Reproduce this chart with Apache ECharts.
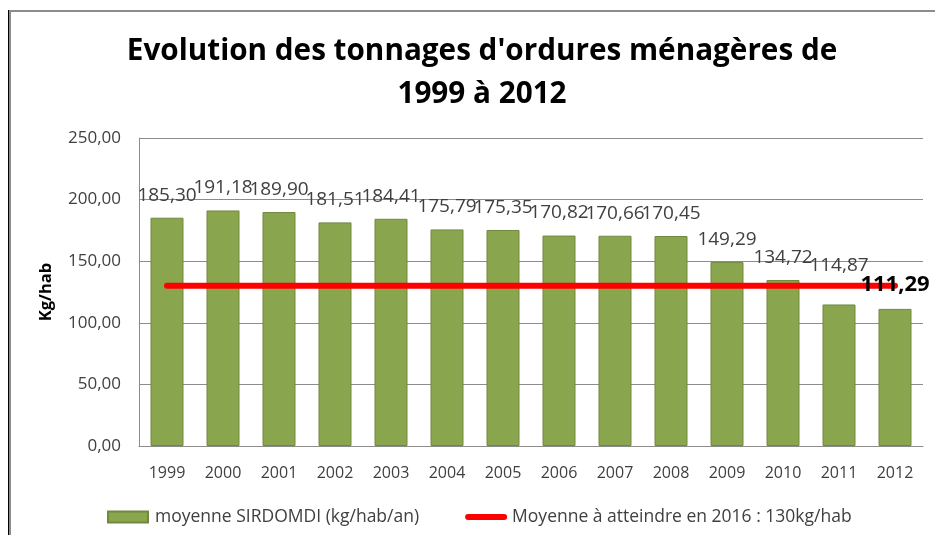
<!DOCTYPE html>
<html>
<head>
<meta charset="utf-8">
<script src="https://cdn.jsdelivr.net/npm/echarts@6/dist/echarts.min.js"></script>
<style>
  html, body { margin: 0; padding: 0; background: #fff; }
  #wrap { position: relative; width: 935px; height: 535px; overflow: hidden; }
  #chart { position: absolute; left: 0; top: 0; width: 935px; height: 535px; }
  .frame-a { position: absolute; left: 8px; top: 10px; width: 940px; height: 540px; border-left: 1px solid #000; }
  .frame-b { position: absolute; left: 9px; top: 10px; width: 940px; height: 540px; border-left: 2px solid #8c8c8c; border-top: 2px solid #8c8c8c; }
</style>
</head>
<body>
<div id="wrap">
  <div class="frame-a"></div>
  <div class="frame-b"></div>
  <div id="chart"></div>
</div>
<script>
// annees
const years = ["1999", "2000", "2001", "2002", "2003", "2004", "2005", "2006", "2007", "2008", "2009", "2010", "2011", "2012"];
// moyenne SIRDOMDI (kg/hab/an)
const moyenne = [185.30, 191.18, 189.90, 181.51, 184.41, 175.79, 175.35, 170.82, 170.66, 170.45, 149.29, 134.72, 114.87, 111.29];
// objectif 2016
const objectif = [130, 130, 130, 130, 130, 130, 130, 130, 130, 130, 130, 130, 130, 130];

const fr = (v) => v.toFixed(2).replace(".", ",");
const font = "'Open Sans', 'Noto Sans', sans-serif";

const chart = echarts.init(document.getElementById("chart"), null, { renderer: "canvas" });

// labels on a transparent copy of the bars so they sit above the red line
const labelData = moyenne.map((v, i) => {
  if (i === moyenne.length - 1) {
    return { value: v, label: { fontWeight: "bold", fontSize: 22, color: "#000", distance: 13 } };
  }
  if (i === moyenne.length - 2) {
    return { value: v, label: { distance: 29 } }; // decale au-dessus de la ligne
  }
  return v;
});

chart.setOption({
  animation: false,
  textStyle: { fontFamily: font },
  title: {
    text: "Evolution des tonnages d'ordures ménagères de\n1999 à 2012",
    left: 477,
    textAlign: "center",
    top: 25,
    textStyle: { fontSize: 29.7, fontWeight: "bold", color: "#000", lineHeight: 43, fontFamily: font },
  },
  grid: { left: 139, right: 12, top: 138, bottom: 89 },
  legend: {
    left: 102,
    top: 503,
    itemGap: 46,
    itemWidth: 42,
    itemHeight: 11,
    textStyle: { fontSize: 17.5, color: "#404040", fontFamily: font },
    data: [
      { name: "moyenne SIRDOMDI (kg/hab/an)", icon: "path://M0,0 L40,0 L40,11 L0,11 Z M42,0 Z" },
      {
        name: "Moyenne à atteindre en 2016 : 130kg/hab",
        icon: "path://M0,0 M42,11 M3,2.5 L39,2.5 A3,3 0 0 1 39,8.5 L3,8.5 A3,3 0 0 1 3,2.5 Z",
      },
    ],
  },
  xAxis: {
    type: "category",
    data: years,
    axisLine: { lineStyle: { color: "#8c8c8c", width: 1 } },
    axisTick: { show: false },
    axisLabel: { color: "#404040", fontSize: 16, margin: 19, fontFamily: font },
  },
  yAxis: {
    type: "value",
    min: 0,
    max: 250,
    interval: 50,
    name: "Kg/hab",
    nameLocation: "middle",
    nameRotate: 90,
    nameGap: 84,
    nameTextStyle: { fontSize: 16.5, fontWeight: "bold", color: "#000", fontFamily: font },
    axisLine: { show: true, lineStyle: { color: "#8c8c8c" } },
    axisTick: { show: false },
    axisLabel: { color: "#404040", fontSize: 17, margin: 18, formatter: fr, fontFamily: font },
    splitLine: { lineStyle: { color: "#8c8c8c", width: 1 } },
  },
  series: [
    {
      name: "moyenne SIRDOMDI (kg/hab/an)",
      type: "bar",
      data: moyenne,
      barWidth: 33,
      itemStyle: { color: "#89a54e", borderColor: "#71893f", borderWidth: 1 },
      z: 1,
    },
    {
      name: "Moyenne à atteindre en 2016 : 130kg/hab",
      type: "line",
      data: objectif,
      symbol: "none",
      lineStyle: { color: "#ff0000", width: 6, cap: "round" },
      itemStyle: { color: "#ff0000" },
      z: 2,
    },
    {
      name: "etiquettes",
      type: "bar",
      data: labelData,
      barWidth: 33,
      barGap: "-100%",
      silent: true,
      itemStyle: { color: "rgba(0,0,0,0)" },
      z: 5,
      label: {
        show: true,
        position: "top",
        distance: 13,
        fontSize: 19,
        color: "#404040",
        fontFamily: font,
        formatter: (p) => fr(p.value),
      },
    },
  ],
});
</script>
</body>
</html>
